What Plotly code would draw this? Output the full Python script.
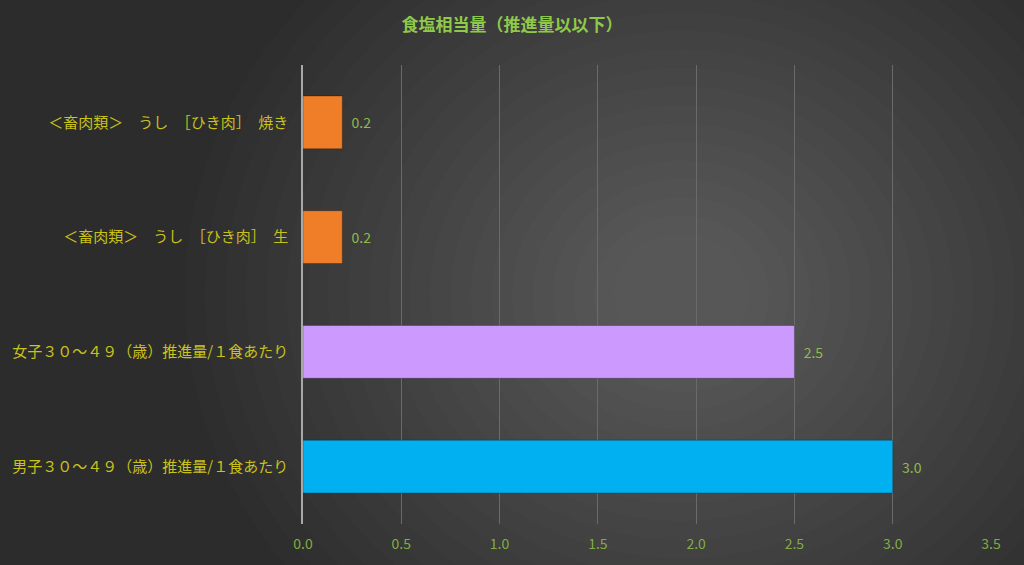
import plotly.graph_objects as go

categories = [
    "＜畜肉類＞　うし　［ひき肉］　焼き",
    "＜畜肉類＞　うし　［ひき肉］　生",
    "女子３０～４９（歳）推進量/１食あたり",
    "男子３０～４９（歳）推進量/１食あたり",
]
values = [0.2, 0.2, 2.5, 3.0]
bar_colors = ["#f07d28", "#f07d28", "#cc99ff", "#00b0f0"]
x_ticks = [0.0, 0.5, 1.0, 1.5, 2.0, 2.5, 3.0, 3.5]
title = "食塩相当量（推進量以以下）"

FONT = "Noto Sans CJK JP"

fig = go.Figure()
fig.add_trace(go.Bar(
    y=categories, x=values, orientation="h",
    marker=dict(color=bar_colors, line=dict(color="rgba(0,0,0,0.25)", width=1)),
    width=0.46,
    text=values, texttemplate="  %{x:.1f}", textposition="outside",
    textfont=dict(color="#8fba4e", size=14, family=FONT),
    cliponaxis=False,
))

# background glow (styling only)
shapes = []
n = 22
for i in range(n):
    r = 0.85 - i * 0.035
    shapes.append(dict(type="circle", xref="paper", yref="paper",
                       x0=0.55 - r * 0.85, x1=0.55 + r * 0.85, y0=0.5 - r * 1.15, y1=0.5 + r * 1.15,
                       fillcolor="rgba(255,255,255,0.011)", line=dict(width=0), layer="below"))

fig.update_layout(
    width=1024, height=565,
    paper_bgcolor="#2c2c2c", plot_bgcolor="rgba(0,0,0,0)",
    margin=dict(l=301, r=33, t=65, b=41),
    showlegend=False,
    shapes=shapes,
    title=dict(text="<b>" + title + "</b>", x=0.5, xanchor="center", y=0.955, yanchor="middle",
               font=dict(color="#8fc94a", size=17, family=FONT)),
    xaxis=dict(range=[0, 3.5], tickvals=x_ticks, ticktext=[f"{v:.1f}" for v in x_ticks],
               showgrid=True, gridcolor="#6a6a6a", gridwidth=1, zeroline=False,
               showline=False, ticks="", ticklabelstandoff=10,
               tickfont=dict(color="#7fae3f", size=14, family=FONT)),
    yaxis=dict(autorange="reversed", showgrid=False, zeroline=False,
               showline=True, linecolor="#a8a8a8", linewidth=1.5, ticks="",
               ticksuffix="   ",
               tickfont=dict(color="#c8c21a", size=15, family=FONT)),
    bargap=0.54,
)

fig.write_html("out.html", config={"displayModeBar": False},
               post_script="document.body.style.margin='0';document.body.style.background='#2c2c2c';")
